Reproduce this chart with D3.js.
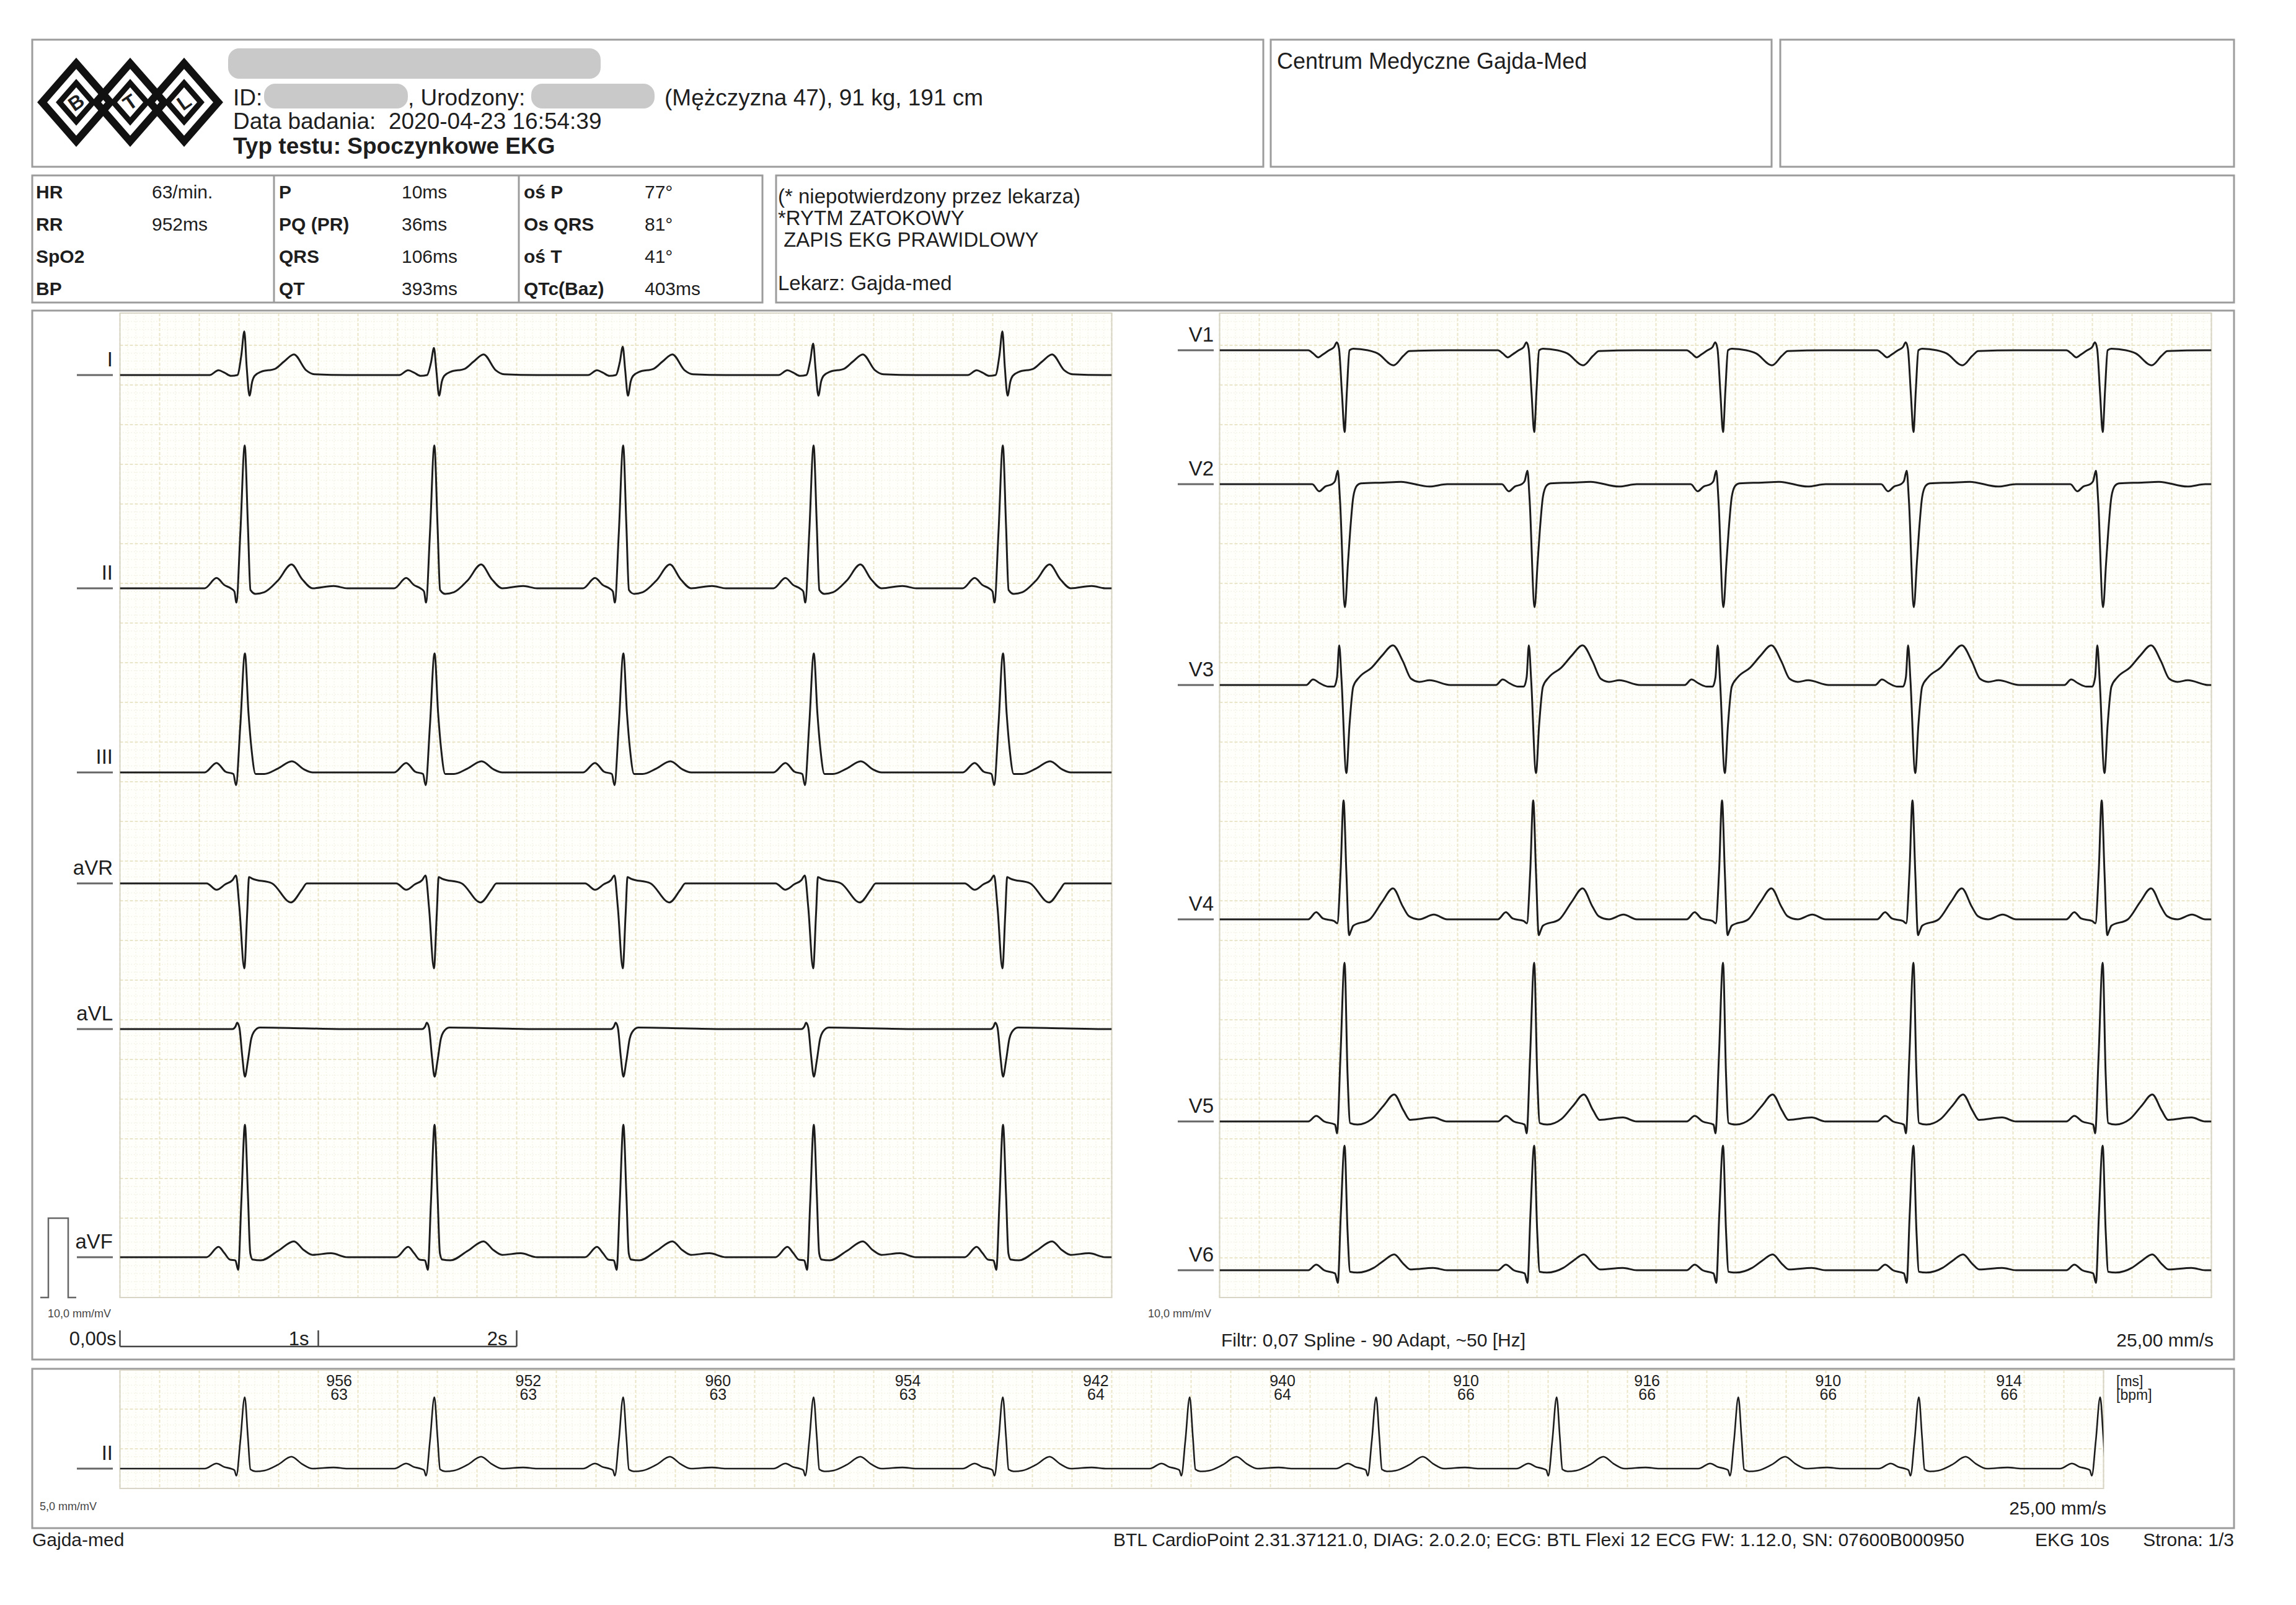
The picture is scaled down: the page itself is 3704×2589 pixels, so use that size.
<!DOCTYPE html>
<html>
<head>
<meta charset="utf-8">
<script src="https://cdn.jsdelivr.net/npm/d3@7"></script>
<style>
  body { margin: 0; background: #fff; }
  svg { display: block; }
  text { font-family: "Liberation Sans", Arial, sans-serif; fill: #1e1e1e; white-space: pre; }
</style>
</head>
<body>
<svg id="chart" width="3704" height="2589"></svg>
<script>
// ---- data ----
var rPeaks = [0.627, 1.583, 2.535, 3.495, 4.449, 5.391, 6.331, 7.241, 8.157, 9.067, 9.981]; // s
var rrMs   = [956, 952, 960, 954, 942, 940, 910, 916, 910, 914];
var rrBpm  = [63, 63, 63, 63, 64, 64, 66, 66, 66, 66];

var leftLeads  = ["I", "II", "III", "aVR", "aVL", "aVF"];
var rightLeads = ["V1", "V2", "V3", "V4", "V5", "V6"];

// one beat per lead: [ms relative to R, mV]
var beatI   = [[-250,0],[-175,0],[-130,0.06],[-100,0.03],[-67,-0.01],[-35,0],[-15,0.25],[0,0.55],[12,0.1],[26,-0.26],[40,-0.08],[52,-0.01],[83,0.04],[156,0.08],[200,0.17],[250,0.26],[312,0.06],[354,0.01],[520,0]];
var beatII  = [[-250,0],[-200,0],[-140,0.13],[-100,0.04],[-68,0],[-50,-0.04],[-40,-0.18],[-20,0.7],[2,1.8],[18,0.8],[31,-0.02],[57,-0.07],[100,-0.05],[170,0.1],[238,0.3],[290,0.12],[345,0],[450,0.03],[520,0]];
var beatIII = [[-250,0],[-200,0],[-140,0.12],[-95,0.01],[-55,-0.02],[-42,-0.16],[-20,0.6],[3,1.5],[21,0.75],[36,0.3],[57,-0.02],[100,-0.02],[170,0.05],[240,0.14],[300,0.04],[345,0],[520,0]];
var beatAVR = [[-250,0],[-190,0],[-140,-0.08],[-95,-0.01],[-60,0.04],[-42,0.1],[-25,-0.3],[0,-1.07],[14,-0.4],[24,0.08],[40,0.06],[140,0],[235,-0.24],[290,-0.08],[315,0],[520,0]];
var beatAVL = [[-250,0],[-60,0],[-45,0.03],[-36,0.08],[-25,0.02],[-10,-0.35],[3,-0.6],[18,-0.4],[35,-0.12],[47,-0.04],[78,0.02],[300,0.01],[520,0]];
var beatAVF = [[-250,0],[-190,0],[-130,0.13],[-100,0.05],[-73,-0.03],[-45,-0.04],[-31,-0.16],[-15,0.7],[3,1.67],[18,0.8],[30,0.05],[42,-0.03],[83,-0.04],[170,0.08],[250,0.2],[300,0.09],[344,0.03],[437,0.05],[520,0]];
var beatV1  = [[-250,0],[-180,0],[-155,-0.04],[-130,-0.09],[-105,-0.05],[-75,0],[-50,0.04],[-36,0.1],[-25,0.02],[-10,-0.55],[3,-1.03],[15,-0.5],[28,0],[47,0.02],[120,0],[170,-0.04],[250,-0.19],[300,-0.07],[330,-0.01],[520,0]];
var beatV2  = [[-250,0],[-160,0],[-125,-0.09],[-95,-0.03],[-60,0],[-45,0.04],[-31,0.17],[-20,-0.2],[5,-1.55],[20,-1.0],[31,-0.6],[47,-0.16],[65,-0.02],[85,0.01],[200,0.02],[286,0.03],[430,-0.03],[520,0]];
var beatV3  = [[-250,0],[-190,0],[-156,0.07],[-120,0.02],[-78,-0.02],[-50,-0.02],[-35,0.1],[-24,0.5],[-12,0.05],[12,-1.11],[28,-0.5],[47,-0.02],[78,0.1],[140,0.22],[192,0.37],[247,0.5],[297,0.3],[338,0.08],[380,0.04],[432,0.06],[536,0]];
var beatV4  = [[-250,0],[-180,0],[-140,0.09],[-105,0.01],[-50,-0.02],[-34,-0.05],[-17,0.6],[-2,1.5],[12,0.6],[26,-0.2],[36,-0.14],[47,-0.08],[130,0],[192,0.22],[247,0.39],[297,0.16],[328,0.04],[380,0],[453,0.06],[520,0]];
var beatV5  = [[-250,0],[-180,0],[-140,0.07],[-100,0],[-45,-0.04],[-35,-0.15],[-18,0.8],[3,2.0],[18,0.6],[31,-0.02],[68,-0.04],[140,0.03],[200,0.2],[253,0.34],[300,0.14],[333,0.02],[450,0.05],[520,0]];
var beatV6  = [[-250,0],[-180,0],[-140,0.07],[-100,0],[-45,-0.04],[-31,-0.16],[-16,0.7],[3,1.57],[18,0.5],[31,-0.02],[68,-0.03],[150,0.03],[200,0.12],[253,0.2],[300,0.08],[335,0.01],[450,0.03],[520,0]];
var beatGainI = [1.0, 0.62, 0.65, 0.72, 1.0]; // R height changes with breathing in lead I

var measCol1 = [["HR","63/min."],["RR","952ms"],["SpO2",""],["BP",""]];
var measCol2 = [["P","10ms"],["PQ (PR)","36ms"],["QRS","106ms"],["QT","393ms"]];
var measCol3 = [["oś P","77°"],["Os QRS","81°"],["oś T","41°"],["QTc(Baz)","403ms"]];
var diagLines = ["(* niepotwierdzony przez lekarza)", "*RYTM ZATOKOWY", " ZAPIS EKG PRAWIDLOWY"];
var timeTicks = [0, 1, 2];
var timeTickLabels = ["0,00s", "1s", "2s"];

// ---- layout ----
var PX_MM = 12.8, SEC = 25 * PX_MM, MV = 10 * PX_MM;
var svg = d3.select("#chart");
svg.append("rect").attr("width", 3704).attr("height", 2589).attr("fill", "#fff");

var leadTemplates = { I: beatI, II: beatII, III: beatIII, aVR: beatAVR, aVL: beatAVL, aVF: beatAVF,
                      V1: beatV1, V2: beatV2, V3: beatV3, V4: beatV4, V5: beatV5, V6: beatV6 };
var leftBase  = [605, 949, 1246, 1425, 1660, 2028];
var rightBase = [565, 781, 1105, 1483, 1809, 2049];

function box(x, y, w, h) {
    svg.append("rect").attr("x", x).attr("y", y).attr("width", w).attr("height", h)
        .attr("fill", "none").attr("stroke", "#9c9c9c").attr("stroke-width", 3);
}
function txt(x, y, s, size, opts) {
    opts = opts || {};
    return svg.append("text").attr("x", x).attr("y", y).text(s)
        .style("font-size", size + "px")
        .style("font-weight", opts.bold ? "bold" : "normal")
        .attr("text-anchor", opts.anchor || "start")
        .style("fill", opts.fill || "#1e1e1e");
}

// header boxes
box(52, 64, 1986, 205);
box(2050, 64, 808, 205);
box(2872, 64, 732, 205);
box(52, 283, 1178, 205);
box(1252, 283, 2352, 205);
box(52, 501, 3552, 1692);
box(52, 2208, 3552, 257);
[442, 837].forEach(function(x) {
    svg.append("line").attr("x1", x).attr("x2", x).attr("y1", 283).attr("y2", 488)
        .attr("stroke", "#9c9c9c").attr("stroke-width", 3);
});

// logo (three interlocked diamonds)
var logo = svg.append("g").attr("transform", "translate(65,100)");
["B", "T", "L"].forEach(function(ch, i) {
    var cx = 58 + i * 87, cy = 65;
    logo.append("path")
        .attr("d", "M" + (cx - 55) + "," + cy + "L" + cx + "," + (cy - 63) + "L" + (cx + 55) + "," + cy + "L" + cx + "," + (cy + 63) + "Z")
        .attr("fill", "none").attr("stroke", "#111").attr("stroke-width", 12);
    logo.append("path")
        .attr("d", "M" + (cx - 27) + "," + cy + "L" + cx + "," + (cy - 31) + "L" + (cx + 27) + "," + cy + "L" + cx + "," + (cy + 31) + "Z")
        .attr("fill", "#fff").attr("stroke", "#111").attr("stroke-width", 9);
    logo.append("text").attr("x", cx).attr("y", cy + 11).attr("text-anchor", "middle")
        .attr("transform", "rotate(-35," + cx + "," + cy + ")")
        .style("font-size", "32px").style("font-weight", "bold").text(ch);
});

// patient block (personal data is blurred in the original)
[[368, 78, 601, 49], [426, 135, 232, 40], [857, 135, 199, 40]].forEach(function(r) {
    svg.append("rect").attr("x", r[0]).attr("y", r[1]).attr("width", r[2]).attr("height", r[3])
        .attr("rx", 18).attr("fill", "#c9c9c9");
});
txt(376, 170, "ID:", 37);
txt(658, 170, ", Urodzony:", 37);
txt(1072, 170, "(Mężczyzna 47), 91 kg, 191 cm", 37);
txt(376, 208, "Data badania:  2020-04-23 16:54:39", 37);
txt(376, 248, "Typ testu: Spoczynkowe EKG", 37, { bold: true });
txt(2060, 111, "Centrum Medyczne Gajda-Med", 36);

// measurements table
var rowY = [320, 372, 424, 476];
[[measCol1, 58, 245], [measCol2, 450, 648], [measCol3, 845, 1040]].forEach(function(c) {
    c[0].forEach(function(row, i) {
        txt(c[1], rowY[i], row[0], 30, { bold: true });
        txt(c[2], rowY[i], row[1], 30);
    });
});
diagLines.forEach(function(s, i) {
    txt(1255, 328 + i * 35, s, 33);
});
txt(1255, 468, "Lekarz: Gajda-med", 33);

// ---- grid ----
var defs = svg.append("defs");
function drawGrid(id, x0, x1, y0, y1) {
    defs.append("clipPath").attr("id", id).append("rect")
        .attr("x", x0).attr("y", y0).attr("width", x1 - x0).attr("height", y1 - y0);
    var g = svg.append("g");
    g.append("rect").attr("x", x0).attr("y", y0).attr("width", x1 - x0).attr("height", y1 - y0)
        .attr("fill", "#fffffb");
    var nx = Math.round((x1 - x0) / PX_MM), ny = Math.floor((y1 - y0) / PX_MM);
    d3.range(0, nx + 1).forEach(function(i) {
        var x = x0 + i * PX_MM, major = i % 5 === 0;
        g.append("line").attr("x1", x).attr("x2", x).attr("y1", y0).attr("y2", y1)
            .attr("stroke", major ? "#ebe5c9" : "#f4f1e3")
            .attr("stroke-width", major ? 2 : 1.5)
            .attr("stroke-dasharray", major ? "5,3" : "1.5,3");
    });
    d3.range(0, ny + 1).forEach(function(j) {
        var y = y1 - j * PX_MM, major = j % 5 === 0;
        g.append("line").attr("x1", x0).attr("x2", x1).attr("y1", y).attr("y2", y)
            .attr("stroke", major ? "#ebe5c9" : "#f4f1e3")
            .attr("stroke-width", major ? 2 : 1.5)
            .attr("stroke-dasharray", major ? "5,3" : "1.5,3");
    });
    g.append("rect").attr("x", x0).attr("y", y0).attr("width", x1 - x0).attr("height", y1 - y0)
        .attr("fill", "none").attr("stroke", "#d8d5c6").attr("stroke-width", 2);
}

var leftX0 = 193.5, rightX0 = 1967.5, gridTop = 505, gridBottom = 2093;
var rhX0 = 193.5, rhTop = 2210, rhBottom = 2401;
drawGrid("clipL", leftX0, leftX0 + 5 * SEC, gridTop, gridBottom);
drawGrid("clipR", rightX0, rightX0 + 5 * SEC, gridTop, gridBottom);
drawGrid("clipRh", rhX0, rhX0 + 10 * SEC, rhTop, rhBottom);

// ---- traces ----
function knots(tpl, beats, tEnd, gains) {
    var pts = [[0, 0]];
    beats.forEach(function(r, i) {
        if (r - 0.25 > tEnd) return;
        tpl.forEach(function(k) {
            var v = k[1];
            if (gains && v > 0 && Math.abs(k[0]) <= 15) v = v * gains[i];
            pts.push([r + k[0] / 1000, v]);
        });
    });
    if (pts[pts.length - 1][0] < tEnd) pts.push([tEnd, 0]);
    return pts;
}

function drawLead(name, x0, tEnd, base, mmPerMv, clip, lw) {
    var x = d3.scaleLinear().domain([0, tEnd]).range([x0, x0 + tEnd * SEC]);
    var y = d3.scaleLinear().domain([0, 1]).range([base, base - mmPerMv * PX_MM]);
    var line = d3.line().x(function(d) { return x(d[0]); }).y(function(d) { return y(d[1]); })
        .curve(d3.curveMonotoneX);
    var pts = knots(leadTemplates[name], rPeaks, tEnd, name === "I" ? beatGainI : null);
    svg.append("path").attr("clip-path", "url(#" + clip + ")")
        .attr("d", line(pts)).attr("fill", "none")
        .attr("stroke", "#1c1c1c").attr("stroke-width", lw).attr("stroke-linejoin", "round");
}

function leadLabel(name, right, base) {
    txt(right, base - 14, name, 33, { anchor: "end" });
    svg.append("line").attr("x1", right - 58).attr("x2", right).attr("y1", base).attr("y2", base)
        .attr("stroke", "#666").attr("stroke-width", 3);
}

leftLeads.forEach(function(n, i) {
    drawLead(n, leftX0, 5, leftBase[i], 10, "clipL", 3);
    leadLabel(n, 182, leftBase[i]);
});
rightLeads.forEach(function(n, i) {
    drawLead(n, rightX0, 5, rightBase[i], 10, "clipR", 3);
    leadLabel(n, 1958, rightBase[i]);
});
drawLead("II", rhX0, 10, 2369, 5, "clipRh", 2.6);
leadLabel("II", 182, 2369);

// RR intervals over the rhythm strip
var xr = d3.scaleLinear().domain([0, 10]).range([rhX0, rhX0 + 10 * SEC]);
rrMs.forEach(function(ms, i) {
    var mx = xr((rPeaks[i] + rPeaks[i + 1]) / 2);
    txt(mx, 2236, ms, 25, { anchor: "middle" });
    txt(mx, 2258, rrBpm[i], 25, { anchor: "middle" });
});
txt(3414, 2236, "[ms]", 23);
txt(3414, 2258, "[bpm]", 23);

// calibration pulse
var yc = d3.scaleLinear().domain([0, 1]).range([gridBottom, gridBottom - MV]);
svg.append("path")
    .attr("d", d3.line()([[65, yc(0)], [78, yc(0)], [78, yc(1)], [110, yc(1)], [110, yc(0)], [123, yc(0)]]))
    .attr("fill", "none").attr("stroke", "#666").attr("stroke-width", 2.5);
txt(77, 2125, "10,0 mm/mV", 18, { fill: "#444" });
txt(1852, 2125, "10,0 mm/mV", 18, { fill: "#444" });
txt(64, 2436, "5,0 mm/mV", 18, { fill: "#444" });

// time axis
var xt = d3.scaleLinear().domain([0, 5]).range([leftX0, leftX0 + 5 * SEC]);
svg.append("line").attr("x1", xt(0)).attr("x2", xt(2)).attr("y1", 2172).attr("y2", 2172)
    .attr("stroke", "#444").attr("stroke-width", 2.5);
timeTicks.forEach(function(t, i) {
    svg.append("line").attr("x1", xt(t)).attr("x2", xt(t)).attr("y1", 2146).attr("y2", 2172)
        .attr("stroke", "#444").attr("stroke-width", 2.5);
    txt(xt(t) - (i === 0 ? 6 : 15), 2170, timeTickLabels[i], 31, { anchor: "end" });
});

txt(1970, 2172, "Filtr: 0,07 Spline - 90 Adapt, ~50 [Hz]", 30);
txt(3571, 2172, "25,00 mm/s", 30, { anchor: "end" });
txt(3398, 2443, "25,00 mm/s", 30, { anchor: "end" });

// footer
txt(52, 2494, "Gajda-med", 30);
txt(1796, 2494, "BTL CardioPoint 2.31.37121.0, DIAG: 2.0.2.0; ECG: BTL Flexi 12 ECG FW: 1.12.0, SN: 07600B000950", 30);
txt(3283, 2494, "EKG 10s", 30);
txt(3604, 2494, "Strona: 1/3", 30, { anchor: "end" });
</script>
</body>
</html>
